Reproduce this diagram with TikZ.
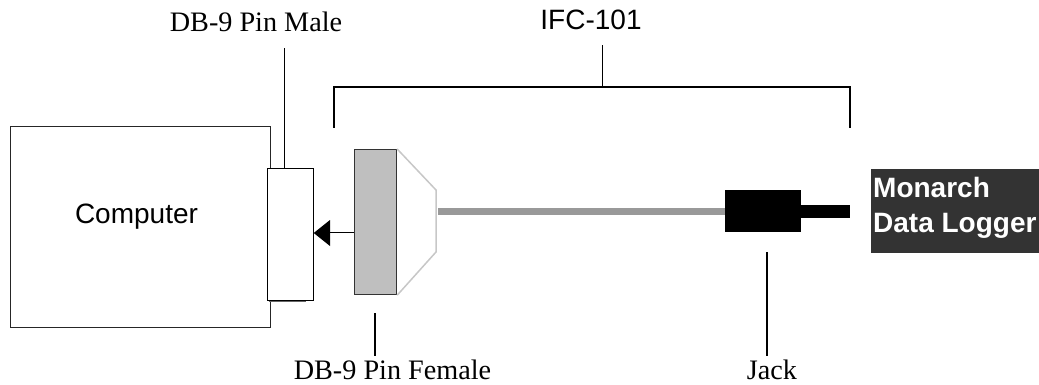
\documentclass[tikz,border=0pt]{standalone}
\usepackage{fontspec}
\setmainfont{Liberation Serif}
\newfontfamily\arialf{Liberation Sans}
\tikzset{
  ln/.style={draw=black,line width=1.5pt},
  serifl/.style={font=\fontsize{28.2}{32}\selectfont,inner sep=0pt,anchor=base},
  sansl/.style={font=\arialf\fontsize{28}{32}\selectfont,inner sep=0pt,anchor=base},
}
\begin{document}
\begin{tikzpicture}[x=1pt,y=-1pt]
\useasboundingbox (0,0) rectangle (1039,385);
% computer
\node[draw=black!85,line width=1.2pt,minimum width=260pt,minimum height=201pt,anchor=north west,inner sep=0pt] (comp) at (10,126) {};
\node[sansl] (complabel) at (136.5,223) {Computer};
% male connector
\node[draw=black,fill=white,line width=1.2pt,minimum width=45.5pt,minimum height=132pt,anchor=north west,inner sep=0pt] (male) at (267,168) {};
\draw[draw=black!60,line width=1.4pt] (268.5,301.5) -- (306,301.5);
% female connector
\node[draw=black!80,fill=black!25,line width=1.2pt,minimum width=42pt,minimum height=145pt,anchor=north west,inner sep=0pt] (female) at (354,149) {};
\draw[draw=black!22,line width=1.5pt] (female.north east) -- (436,190) -- (436,252) -- (female.south east);
\coordinate (cableL) at (438,211.5);
% jack
\node[fill=black,minimum width=76pt,minimum height=42pt,anchor=north west,inner sep=0pt] (jack) at (725,190) {};
\draw[draw=black!40,line width=7pt] (cableL) -- (jack.west |- cableL);
\coordinate (plugE) at (850,211.5);
\draw[draw=black,line width=13pt] (jack.east |- plugE) -- (plugE);
% arrow
\coordinate (arrowbase) at (330,233);
\fill[black] (male.east |- arrowbase) -- (330,220) -- (330,246) -- cycle;
\draw[ln,line width=1.2pt] (female.west |- 0,232.5) -- (330,232.5);
% logger
\node[fill=black!80,minimum width=168pt,minimum height=84pt,anchor=north west,inner sep=0pt] (logger) at (871,169) {};
\node[font=\arialf\bfseries\fontsize{28}{35}\selectfont,text=white,align=left,anchor=north west,inner sep=0pt] (loggertext) at (873,177) {Monarch\\Data Logger};
% bracket
\coordinate (brL) at (334,128);
\coordinate (brR) at (850,128);
\coordinate (brM) at (602.5,87);
\coordinate (brT) at (602.5,45);
\draw[ln] (brL) -- (334,87) -- (850,87) -- (brR);
\draw[ln] (brM) -- (brT);
\node[sansl] (ifc) at (591,30) {IFC-101};
% labels
\node[serifl] (dbm) at (256,31.5) {DB-9 Pin Male};
\draw[draw=black,line width=1pt] (male.north -| 284,0) -- (284,48);
\node[serifl] (dbf) at (392.5,379) {DB-9 Pin Female};
\draw[ln] (375,313) -- (375,356);
\node[serifl] (jacklabel) at (772,379) {Jack};
\draw[ln] (767,252) -- (767,356);
\end{tikzpicture}
\end{document}
